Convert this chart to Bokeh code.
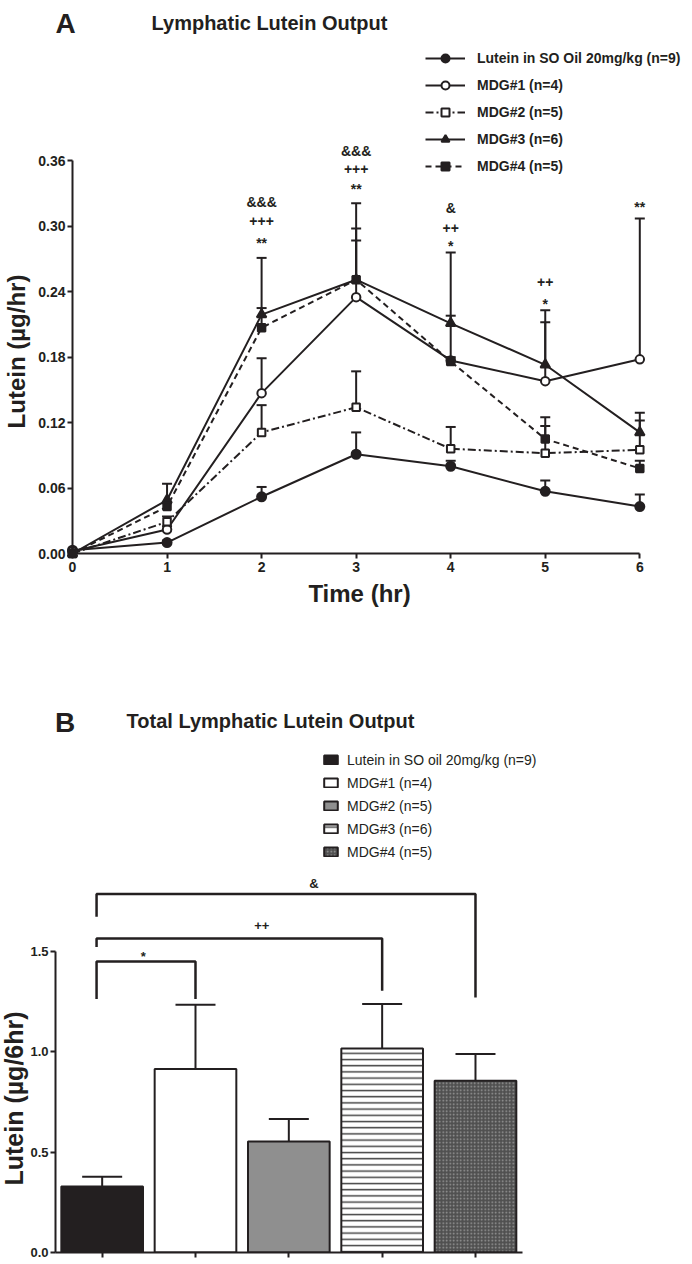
import math
from bokeh.plotting import figure
from bokeh.models import (ColumnDataSource, Whisker, TeeHead, Legend, LegendItem,
                          LabelSet, FixedTicker, NumeralTickFormatter, Range1d)
from bokeh.embed import file_html
from bokeh.resources import INLINE
from bokeh.core.properties import value

# ---------------- Panel A data ----------------
time_hr = [0, 1, 2, 3, 4, 5, 6]
series_names = ["Lutein in SO Oil 20mg/kg (n=9)", "MDG#1 (n=4)", "MDG#2 (n=5)",
                "MDG#3 (n=6)", "MDG#4 (n=5)"]
lutein_so_mean = [0.003, 0.010, 0.052, 0.091, 0.080, 0.057, 0.043]
lutein_so_upper = [0.004, 0.012, 0.061, 0.111, 0.085, 0.067, 0.054]
mdg1_mean = [0.002, 0.022, 0.147, 0.235, 0.177, 0.158, 0.178]
mdg1_upper = [0.003, 0.025, 0.179, 0.321, 0.276, 0.223, 0.307]
mdg2_mean = [0.000, 0.029, 0.111, 0.134, 0.096, 0.092, 0.095]
mdg2_upper = [0.001, 0.034, 0.136, 0.167, 0.116, 0.117, 0.122]
mdg3_mean = [0.000, 0.049, 0.219, 0.251, 0.211, 0.173, 0.111]
mdg3_upper = [0.001, 0.064, 0.271, 0.287, 0.218, 0.212, 0.129]
mdg4_mean = [0.000, 0.043, 0.207, 0.251, 0.176, 0.105, 0.078]
mdg4_upper = [0.001, 0.046, 0.225, 0.298, 0.180, 0.125, 0.085]
y_ticks_a = [0.0, 0.06, 0.12, 0.18, 0.24, 0.30, 0.36]

sig_x = [2, 2, 2, 3, 3, 3, 4, 4, 4, 5, 5, 6]
sig_text = ["**", "+++", "&&&", "**", "+++", "&&&", "*", "++", "&", "*", "++", "**"]
sig_y = [0.2803, 0.3006, 0.3172, 0.3298, 0.3480, 0.3640, 0.2772, 0.2939, 0.3126,
         0.2237, 0.2440, 0.3130]

# ---------------- Panel B data ----------------
groups = ["Lutein in SO oil 20mg/kg (n=9)", "MDG#1 (n=4)", "MDG#2 (n=5)",
          "MDG#3 (n=6)", "MDG#4 (n=5)"]
total_mean = [0.329, 0.914, 0.553, 1.017, 0.856]
total_upper = [0.377, 1.234, 0.665, 1.238, 0.989]
y_ticks_b = [0.0, 0.5, 1.0, 1.5]

bracket_left = [1, 1, 1]
bracket_right = [2, 4, 5]
bracket_top = [1.450, 1.565, 1.786]
bracket_left_low = [1.263, 1.523, 1.673]
bracket_right_low = [1.263, 1.304, 1.271]
bracket_text = ["*", "++", "&"]
bracket_text_x = [1.44, 2.71, 3.27]
bracket_text_y = [1.455, 1.606, 1.817]

INK = "#231f20"
FONT = "Liberation Sans"


def style_axis(ax, size, style="bold"):
    ax.axis_line_color = INK
    ax.axis_line_width = 2
    ax.major_tick_line_color = INK
    ax.major_tick_line_width = 2
    ax.major_tick_out = 5
    ax.major_tick_in = 0
    ax.minor_tick_out = 0
    ax.minor_tick_in = 0
    ax.major_label_text_font = FONT
    ax.major_label_text_font_style = style
    ax.major_label_text_font_size = size
    ax.major_label_text_color = INK


def add_text(p, x, y, txt, size, angle=0.0):
    r = p.text(x=[x], y=[y], text=[txt], angle=angle, text_align="center",
               text_baseline="middle", text_font=value(FONT), text_font_style="bold",
               text_font_size=size, text_color=INK)
    r.level = "overlay"


# ================= Panel A =================
A_W, A_H = 692, 640
A_LEFT, A_RIGHT, A_TOP, A_BOTTOM = 72, 2, 45, 87
A_XPX = 94.55      # px per hour
A_YPX = 1090.8     # px per ug/hr
a_xend = (A_W - A_LEFT - A_RIGHT) / A_XPX
a_yend = (A_H - A_TOP - A_BOTTOM) / A_YPX


def a_data(px, py):
    return (px - A_LEFT) / A_XPX, (A_H - A_BOTTOM - py) / A_YPX


pA = figure(width=A_W, height=A_H, x_range=Range1d(0, a_xend), y_range=Range1d(0, a_yend),
            output_backend="svg", toolbar_location=None,
            min_border_left=A_LEFT, min_border_right=A_RIGHT,
            min_border_top=A_TOP, min_border_bottom=A_BOTTOM)
pA.grid.visible = False
pA.outline_line_color = None

xa = pA.xaxis[0]
style_axis(xa, "14px")
xa.ticker = FixedTicker(ticks=time_hr)
xa.bounds = (0, 6)
xa.major_label_standoff = 3

ya = pA.yaxis[0]
style_axis(ya, "14px")
ya.ticker = FixedTicker(ticks=y_ticks_a)
ya.formatter = NumeralTickFormatter(format="0.00")
ya.bounds = (0, 0.36)
ya.major_label_standoff = 2

means = [lutein_so_mean, mdg1_mean, mdg2_mean, mdg3_mean, mdg4_mean]
uppers = [lutein_so_upper, mdg1_upper, mdg2_upper, mdg3_upper, mdg4_upper]
styles = [
    dict(marker="circle", size=9, fill=INK, dash="solid"),
    dict(marker="circle", size=8.5, fill="white", dash="solid"),
    dict(marker="square", size=7.5, fill="white", dash="8 3 2 3"),
    dict(marker="triangle", size=9.5, fill=INK, dash="solid"),
    dict(marker="square", size=7.5, fill=INK, dash="6 4"),
]

wx, wl, wu = [], [], []
for m, u in zip(means, uppers):
    wx += time_hr
    wl += m
    wu += u
wsrc = ColumnDataSource(dict(x=wx, lower=wl, upper=wu))
pA.add_layout(Whisker(source=wsrc, base="x", lower="lower", upper="upper",
                      line_color=INK, line_width=2, lower_head=None,
                      upper_head=TeeHead(size=10, line_color=INK, line_width=2)))

items = []
for name, m, st in zip(series_names, means, styles):
    src = ColumnDataSource(dict(x=time_hr, y=m))
    lr = pA.line("x", "y", source=src, line_color=INK, line_width=2, line_dash=st["dash"])
    sr = pA.scatter("x", "y", source=src, marker=st["marker"], size=st["size"],
                    fill_color=st["fill"], line_color=INK, line_width=2)
    lr.level = "overlay"
    sr.level = "overlay"
    items.append(LegendItem(label=name, renderers=[lr, sr]))

legA = Legend(items=items, location=(353, 377), orientation="vertical",
              glyph_width=40, glyph_height=20, label_height=20, spacing=7,
              label_standoff=12, padding=0, margin=0, border_line_color=None,
              background_fill_alpha=0, label_text_font=FONT,
              label_text_font_style="bold", label_text_font_size="14px",
              label_text_color=INK)
pA.add_layout(legA, "center")

sig_src = ColumnDataSource(dict(x=sig_x, y=sig_y, text=sig_text))
pA.add_layout(LabelSet(source=sig_src, x="x", y="y", text="text", text_align="center",
                       text_baseline="alphabetic", text_font=value(FONT),
                       text_font_style="bold", text_font_size="14px", text_color=INK))

add_text(pA, *a_data(65, 23), "A", "28px")
add_text(pA, *a_data(269, 22), "Lymphatic Lutein Output", "20px")
add_text(pA, *a_data(16, 351), "Lutein (µg/hr)", "24px", angle=math.pi / 2)
add_text(pA, *a_data(359, 593), "Time (hr)", "24px")

# ================= Panel B =================
B_W, B_H = 692, 624
B_LEFT, B_RIGHT, B_TOP, B_BOTTOM = 55, 2, 105, 12
B_XPX = 93.33
B_YPX = 200.67
b_xend = 0.5 + (B_W - B_LEFT - B_RIGHT) / B_XPX
b_yend = (B_H - B_TOP - B_BOTTOM) / B_YPX


def b_data(px, py):
    return 0.5 + (px - B_LEFT) / B_XPX, (B_H - B_BOTTOM - py) / B_YPX


pB = figure(width=B_W, height=B_H, x_range=Range1d(0.5, b_xend), y_range=Range1d(0, b_yend),
            output_backend="svg", toolbar_location=None,
            min_border_left=B_LEFT, min_border_right=B_RIGHT,
            min_border_top=B_TOP, min_border_bottom=B_BOTTOM)
pB.grid.visible = False
pB.outline_line_color = None

bar_x = [1, 2, 3, 4, 5]
bsrc = ColumnDataSource(dict(
    x=bar_x, top=total_mean, upper=total_upper,
    fill=[INK, "white", "#8f8f8f", "white", "#505050"],
    hatch=[" ", " ", " ", "horizontal_line", "dot"],
    hcolor=[INK, INK, INK, "#444444", "#9c9c9c"],
    hscale=[6, 6, 6, 6.2, 3.5],
    hweight=[1, 1, 1, 1.5, 0.8],
))
rb = pB.vbar(x="x", top="top", bottom=0, width=0.875, source=bsrc, fill_color="fill",
             line_color=INK, line_width=2, hatch_pattern="hatch", hatch_color="hcolor",
             hatch_scale="hscale", hatch_weight="hweight")

wB = Whisker(source=bsrc, base="x", lower="top", upper="upper", line_color=INK,
             line_width=2, lower_head=None,
             upper_head=TeeHead(size=40, line_color=INK, line_width=2))
wB.level = "overlay"
pB.add_layout(wB)

br_xs = [[l - 0.06, l - 0.06, r, r] for l, r in zip(bracket_left, bracket_right)]
br_ys = [[lo, t, t, ro] for lo, t, ro in zip(bracket_left_low, bracket_top, bracket_right_low)]
pB.multi_line(xs=br_xs, ys=br_ys, line_color=INK, line_width=2.5)

btsrc = ColumnDataSource(dict(x=bracket_text_x, y=bracket_text_y, text=bracket_text))
pB.add_layout(LabelSet(source=btsrc, x="x", y="y", text="text", text_align="center",
                       text_baseline="alphabetic", text_font=value(FONT),
                       text_font_style="bold", text_font_size="13px", text_color=INK))

xb = pB.xaxis[0]
style_axis(xb, "13px")
xb.ticker = FixedTicker(ticks=bar_x)
xb.bounds = (0.5, 5.5)
xb.major_label_standoff = 0
xb.major_label_overrides = {k: "" for k in bar_x}

yb = pB.yaxis[0]
style_axis(yb, "13px")
yb.ticker = FixedTicker(ticks=y_ticks_b)
yb.formatter = NumeralTickFormatter(format="0.0")
yb.bounds = (0, 1.5)
yb.major_label_standoff = 2

legB = Legend(items=[LegendItem(label=g, renderers=[rb], index=i) for i, g in enumerate(groups)],
              location=(267, 392), orientation="vertical", glyph_width=17, glyph_height=11,
              label_height=17, spacing=6, label_standoff=8, padding=0, margin=0,
              border_line_color=None, background_fill_alpha=0, label_text_font=FONT,
              label_text_font_style="normal", label_text_font_size="14px",
              label_text_color=INK)
pB.add_layout(legB, "center")

add_text(pB, *b_data(64.5, 81.7), "B", "28px")
add_text(pB, *b_data(270, 80), "Total Lymphatic Lutein Output", "20px")
add_text(pB, *b_data(13, 458), "Lutein (µg/6hr)", "25px", angle=math.pi / 2)

open("out.html", "w").write(file_html((pA, pB), INLINE))
